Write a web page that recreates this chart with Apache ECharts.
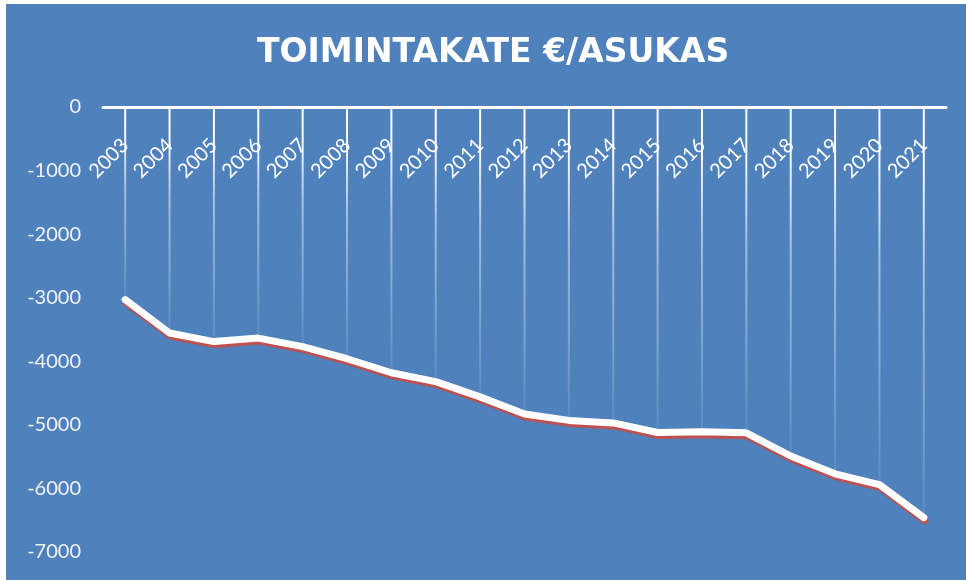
<!DOCTYPE html>
<html>
<head>
<meta charset="utf-8">
<script src="https://cdn.jsdelivr.net/npm/echarts@6/dist/echarts.min.js"></script>
<style>
  html, body { margin: 0; padding: 0; background: #fff; }
  #main { position: absolute; left: 6px; top: 4px; width: 960px; height: 576px; }
</style>
</head>
<body>
<div id="main"></div>
<script>
// vuodet ja toimintakate €/asukas
var years = ['2003', '2004', '2005', '2006', '2007', '2008', '2009', '2010', '2011', '2012',
             '2013', '2014', '2015', '2016', '2017', '2018', '2019', '2020', '2021'];
var values = [-3030, -3555, -3690, -3635, -3770, -3960, -4180, -4320, -4560, -4830,
              -4930, -4970, -5120, -5110, -5125, -5490, -5770, -5940, -6460];
var yTicks = [0, -1000, -2000, -3000, -4000, -5000, -6000, -7000];

var myChart = echarts.init(document.getElementById('main'));

var option = {
  backgroundColor: '#4F81BD',
  title: {
    text: 'TOIMINTAKATE €/ASUKAS',
    left: 246,
    top: 28,
    textStyle: {
      color: '#fff',
      fontFamily: 'DejaVu Sans',
      fontWeight: 'bold',
      fontSize: 33
    }
  },
  grid: { left: 97, right: 20, top: 103, bottom: 28, outerBoundsMode: 'none' },
  xAxis: {
    type: 'category',
    position: 'top',
    data: years,
    boundaryGap: true,
    axisLine: { lineStyle: { color: '#fff', width: 3 } },
    axisTick: { show: false },
    axisLabel: {
      inside: true,
      color: '#fff',
      rotate: 45,
      margin: 35,
      fontFamily: 'Lato',
      fontSize: 20,
      interval: 0
    }
  },
  yAxis: {
    type: 'value',
    min: yTicks[yTicks.length - 1],
    max: yTicks[0],
    interval: 1000,
    axisLine: { show: false },
    axisTick: { show: false },
    splitLine: { show: false },
    axisLabel: {
      color: '#f2f2f2',
      margin: 22,
      fontFamily: 'Lato',
      fontSize: 20,
      formatter: function (v) { return String(v); }
    }
  },
  series: [
    {
      // pudotusviivat akselilta pisteisiin
      type: 'bar',
      data: values,
      barWidth: 2,
      silent: true,
      itemStyle: {
        color: new echarts.graphic.LinearGradient(0, 0, 0, 1, [
          { offset: 0, color: 'rgba(255,255,255,1)' },
          { offset: 0.15, color: 'rgba(255,255,255,0.95)' },
          { offset: 0.4, color: 'rgba(255,255,255,0.5)' },
          { offset: 1, color: 'rgba(255,255,255,0.08)' }
        ])
      }
    },
    {
      type: 'line',
      data: values,
      showSymbol: false,
      lineStyle: {
        color: '#fff',
        width: 7,
        cap: 'round',
        join: 'round',
        shadowColor: '#C0504D',
        shadowBlur: 1,
        shadowOffsetX: 1,
        shadowOffsetY: 3
      }
    }
  ]
};

myChart.setOption(option);
</script>
</body>
</html>
